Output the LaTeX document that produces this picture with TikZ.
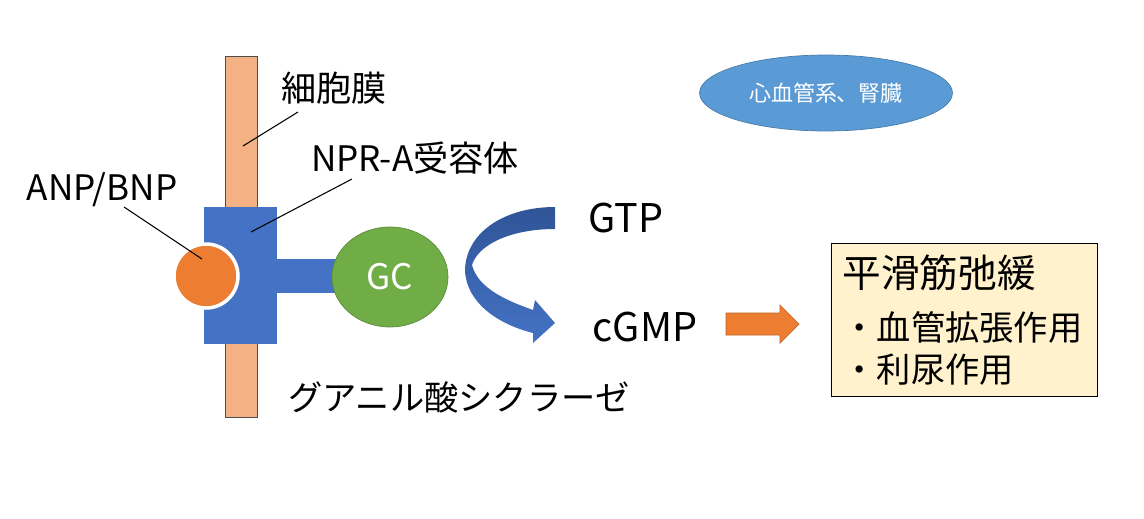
\documentclass[tikz,border=0pt]{standalone}
\usepackage{fontspec}
\setmainfont{Noto Sans CJK JP}
\usetikzlibrary{shapes.geometric}
\definecolor{membr}{HTML}{F4B183}
\definecolor{recblue}{HTML}{4472C4}
\definecolor{darkblue}{HTML}{2F5597}
\definecolor{gcgreen}{HTML}{70AD47}
\definecolor{ligorange}{HTML}{ED7D31}
\definecolor{organblue}{HTML}{5B9BD5}
\definecolor{notefill}{HTML}{FFF2CC}
\tikzstyle{lbl}=[inner sep=0pt, anchor=center, font=\fontsize{20}{24}\selectfont]
\tikzstyle{nucl}=[lbl, font=\fontsize{22.5}{27}\selectfont]
\tikzstyle{leader}=[draw=black, line width=0.6pt]
\tikzstyle{part}=[inner sep=0pt, anchor=center]

\begin{document}
\begin{tikzpicture}[x=0.02cm, y=-0.02cm]
	\useasboundingbox (0,0) rectangle (1144,518);

	% membrane and receptor
	\filldraw[fill=membr, draw=black!70, line width=0.5pt] (225,56) rectangle (257,417);
	\fill[recblue] (204,207) rectangle (277,344);
	\fill[recblue] (270,259) rectangle (345,293);
	\node[part, ellipse, fill=gcgreen, draw=gcgreen!80!black, line width=0.4pt, minimum width=2.32cm, minimum height=2cm, text=white, font=\fontsize{20}{24}\selectfont](gc) at (390,277){GC};
	\node[part, circle, fill=ligorange, draw=white, line width=2pt, minimum size=1.28cm](anp) at (206,276){};

	% GTP -> cGMP
	\shade[top color=darkblue, bottom color=recblue] (555,207) .. controls (505,207) and (466,232) .. (465,270) .. controls (466,302) and (497,324) .. (533,333) -- (533,343) -- (555,323) -- (535,300) -- (533,310) .. controls (505,300) and (478,288) .. (472,265) .. controls (478,245) and (510,229) .. (555,229) -- cycle;

	\node[lbl](membrane) at (334,88){細胞膜};
	\node[lbl](npr) at (415,158){NPR-A受容体};
	\node[lbl](ligand) at (102,190){ANP/BNP};
	\node[nucl](gtp) at (626,218){GTP};
	\node[nucl](cgmp) at (645,327){cGMP};
	\node[lbl, font=\fontsize{19.5}{23}\selectfont](enzyme) at (459,397){グアニル酸シクラーゼ};

	\coordinate (mtail) at (298,112);
	\coordinate (mhead) at (243,146);
	\coordinate (rtail) at (352,179);
	\coordinate (rhead) at (251,232);
	\coordinate (ltail) at (124,207);
	\coordinate (lhead) at (202,259);
	\draw[leader] (mtail) -- (mhead);
	\draw[leader] (rtail) -- (rhead);
	\draw[leader] (ltail) -- (lhead);

	% target organs and effects
	\node[part, ellipse, fill=organblue, draw=organblue!80!black, line width=0.4pt, minimum width=5.06cm, minimum height=1.52cm, text=white, font=\fontsize{12.5}{15}\selectfont](organ) at (826,93){心血管系、腎臓};
	\filldraw[fill=ligorange, draw=ligorange!80!black, line width=0.4pt] (726,313) -- (780,313) -- (780,305) -- (799,324) -- (780,343) -- (780,335) -- (726,335) -- cycle;
	\node[draw=black, fill=notefill, line width=0.6pt, anchor=north west, inner xsep=0.22cm, text width=4.88cm, minimum height=3.06cm, align=left, font=\fontsize{19.5}{24}\selectfont](effect) at (831,243){{\fontsize{22}{26}\selectfont 平滑筋弛緩}\\[6pt]・血管拡張作用\\・利尿作用};
\end{tikzpicture}
\end{document}
